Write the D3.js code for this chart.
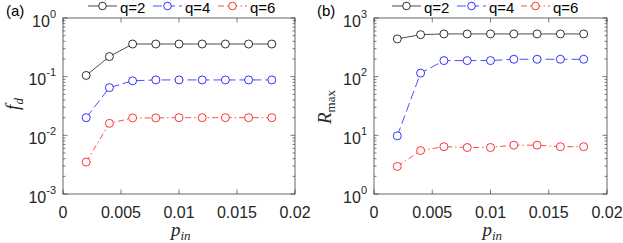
<!DOCTYPE html>
<html>
<head>
<meta charset="utf-8">
<script src="https://cdn.jsdelivr.net/npm/d3@7/dist/d3.min.js"></script>
<style>
  body { margin: 0; background: #fff; }
  svg { display: block; font-family: "Liberation Sans", Arial, sans-serif; }
</style>
</head>
<body>
<svg id="chart" width="623" height="243"></svg>
<script>
var pIn = [0.002, 0.004, 0.006, 0.008, 0.010, 0.012, 0.014, 0.016, 0.018];
var seriesNames = ['q=2', 'q=4', 'q=6'];
var seriesColors = ['#000000', '#0000ff', '#ff0000'];
var seriesDash = [null, '9,4', '6,3,1.5,3'];

var fdQ2 = [0.105, 0.22, 0.36, 0.36, 0.36, 0.36, 0.36, 0.36, 0.36];
var fdQ4 = [0.020, 0.065, 0.085, 0.088, 0.088, 0.088, 0.088, 0.088, 0.088];
var fdQ6 = [0.0035, 0.016, 0.0198, 0.0198, 0.020, 0.020, 0.020, 0.020, 0.020];

var rmaxQ2 = [440, 520, 535, 535, 535, 535, 535, 535, 535];
var rmaxQ4 = [9.8, 115, 188, 188, 188, 198, 198, 198, 198];
var rmaxQ6 = [2.95, 5.5, 6.4, 6.2, 6.2, 6.8, 6.8, 6.4, 6.4];

var xTicks = [0, 0.005, 0.01, 0.015, 0.02];
var xTickLabels = ['0', '0.005', '0.01', '0.015', '0.02'];

var svg = d3.select('#chart');
var axisColor = '#262626';

function drawPanel(opt) {
	var g = svg.append('g');
	var x = d3.scaleLinear().domain([0, 0.02]).range([opt.left, opt.right]);
	var y = d3.scaleLog().domain(opt.yDomain).range([194, 18]);

	// minor log ticks
	var minors = [];
	for (var e = Math.log10(opt.yDomain[0]); e < Math.log10(opt.yDomain[1]); e++) {
		for (var m = 2; m <= 9; m++) minors.push(m * Math.pow(10, e));
	}
	var majors = y.ticks().filter(function(v) {
		return Math.abs(Math.log10(v) - Math.round(Math.log10(v))) < 1e-9;
	});

	function yTicks(cls, data, x0, len) {
		g.selectAll('.' + cls).data(data).enter().append('line')
			.attr('x1', x0).attr('x2', x0 + len)
			.attr('y1', function(d) { return y(d); }).attr('y2', function(d) { return y(d); })
			.attr('stroke', axisColor).attr('stroke-width', 0.6);
	}
	yTicks('minorL', minors, opt.left, 2.5);
	yTicks('minorR', minors, opt.right, -2.5);
	yTicks('majorL', majors, opt.left, 4.5);
	yTicks('majorR', majors, opt.right, -4.5);

	// x ticks top & bottom
	g.selectAll('.xtB').data(xTicks).enter().append('line')
		.attr('x1', function(d) { return x(d); }).attr('x2', function(d) { return x(d); })
		.attr('y1', 194).attr('y2', 189.5)
		.attr('stroke', axisColor).attr('stroke-width', 0.6);
	g.selectAll('.xtT').data(xTicks).enter().append('line')
		.attr('x1', function(d) { return x(d); }).attr('x2', function(d) { return x(d); })
		.attr('y1', 18).attr('y2', 22.5)
		.attr('stroke', axisColor).attr('stroke-width', 0.6);

	// x tick labels
	g.selectAll('.xl').data(xTicks).enter().append('text')
		.attr('x', function(d) { return x(d); }).attr('y', 218)
		.attr('text-anchor', 'middle')
		.attr('font-size', 16).attr('fill', axisColor)
		.text(function(d, i) { return xTickLabels[i]; });

	// y tick labels 10^k
	var yl = g.selectAll('.yl').data(majors).enter().append('text')
		.attr('x', opt.left - 7).attr('y', function(d) { return y(d) + 8.5; })
		.attr('text-anchor', 'end')
		.attr('font-size', 16).attr('fill', axisColor);
	yl.append('tspan').text('10');
	yl.append('tspan').attr('dy', -9).attr('font-size', 11)
		.text(function(d) { var k = Math.round(Math.log10(d)); return k < 0 ? '-' + (-k) : String(k); });

	// box
	g.append('rect')
		.attr('x', opt.left).attr('y', 18)
		.attr('width', opt.right - opt.left).attr('height', 176)
		.attr('fill', 'none').attr('stroke', axisColor).attr('stroke-width', 0.7);

	// series
	var line = d3.line()
		.x(function(d) { return x(d[0]); })
		.y(function(d) { return y(d[1]); });

	opt.series.forEach(function(vals, si) {
		var pts = pIn.map(function(p, i) { return [p, vals[i]]; });
		g.append('path')
			.attr('d', line(pts))
			.attr('fill', 'none')
			.attr('stroke', seriesColors[si])
			.attr('stroke-width', 0.7)
			.attr('stroke-dasharray', seriesDash[si]);
		g.selectAll('.m' + si).data(pts).enter().append('circle')
			.attr('cx', function(d) { return x(d[0]); })
			.attr('cy', function(d) { return y(d[1]); })
			.attr('r', 4)
			.attr('fill', '#fff')
			.attr('stroke', seriesColors[si])
			.attr('stroke-width', 0.8);
	});

	// legend
	opt.legend.forEach(function(lx, si) {
		var lg = g.append('g');
		lg.append('line')
			.attr('x1', lx).attr('x2', lx + 29).attr('y1', 6).attr('y2', 6)
			.attr('stroke', seriesColors[si]).attr('stroke-width', 0.7)
			.attr('stroke-dasharray', seriesDash[si]);
		lg.append('circle')
			.attr('cx', lx + 14.5).attr('cy', 6).attr('r', 3.8)
			.attr('fill', '#fff').attr('stroke', seriesColors[si]).attr('stroke-width', 0.8);
		lg.append('text')
			.attr('x', lx + 32).attr('y', 12.5)
			.attr('font-size', 15).attr('fill', '#000')
			.text(seriesNames[si]);
	});

	// panel label
	g.append('text')
		.attr('x', opt.tagX).attr('y', 15.5)
		.attr('font-size', 15).attr('fill', '#000')
		.text(opt.tag);

	// x label p_in
	var xt = g.append('text')
		.attr('x', (opt.left + opt.right) / 2 - 8).attr('y', 236)
		.attr('font-family', '"Liberation Serif", "DejaVu Serif", serif')
		.attr('font-style', 'italic').attr('font-size', 19).attr('fill', axisColor);
	xt.append('tspan').text('p');
	xt.append('tspan').attr('dy', 4).attr('font-size', 13).text('in');

	// y label
	var yt = g.append('text')
		.attr('transform', 'translate(' + opt.yLabelX + ',' + opt.yLabelY + ') rotate(-90)')
		.attr('text-anchor', 'middle')
		.attr('font-family', '"Liberation Serif", "DejaVu Serif", serif')
		.attr('font-style', 'italic').attr('font-size', 19).attr('fill', axisColor);
	yt.append('tspan').text(opt.yLabel[0]);
	yt.append('tspan').attr('dy', 4).attr('font-size', 13)
		.attr('font-style', opt.yLabel[2] ? 'normal' : 'italic').text(opt.yLabel[1]);
}

drawPanel({
	left: 63, right: 295, yDomain: [1e-3, 1],
	series: [fdQ2, fdQ4, fdQ6],
	legend: [88, 153, 218],
	tag: '(a)', tagX: 6,
	yLabel: ['f', 'd', false], yLabelX: 19, yLabelY: 104
});

drawPanel({
	left: 374, right: 607, yDomain: [1, 1e3],
	series: [rmaxQ2, rmaxQ4, rmaxQ6],
	legend: [392, 457, 521],
	tag: '(b)', tagX: 317,
	yLabel: ['R', 'max', true], yLabelX: 331, yLabelY: 107
});
</script>
</body>
</html>
